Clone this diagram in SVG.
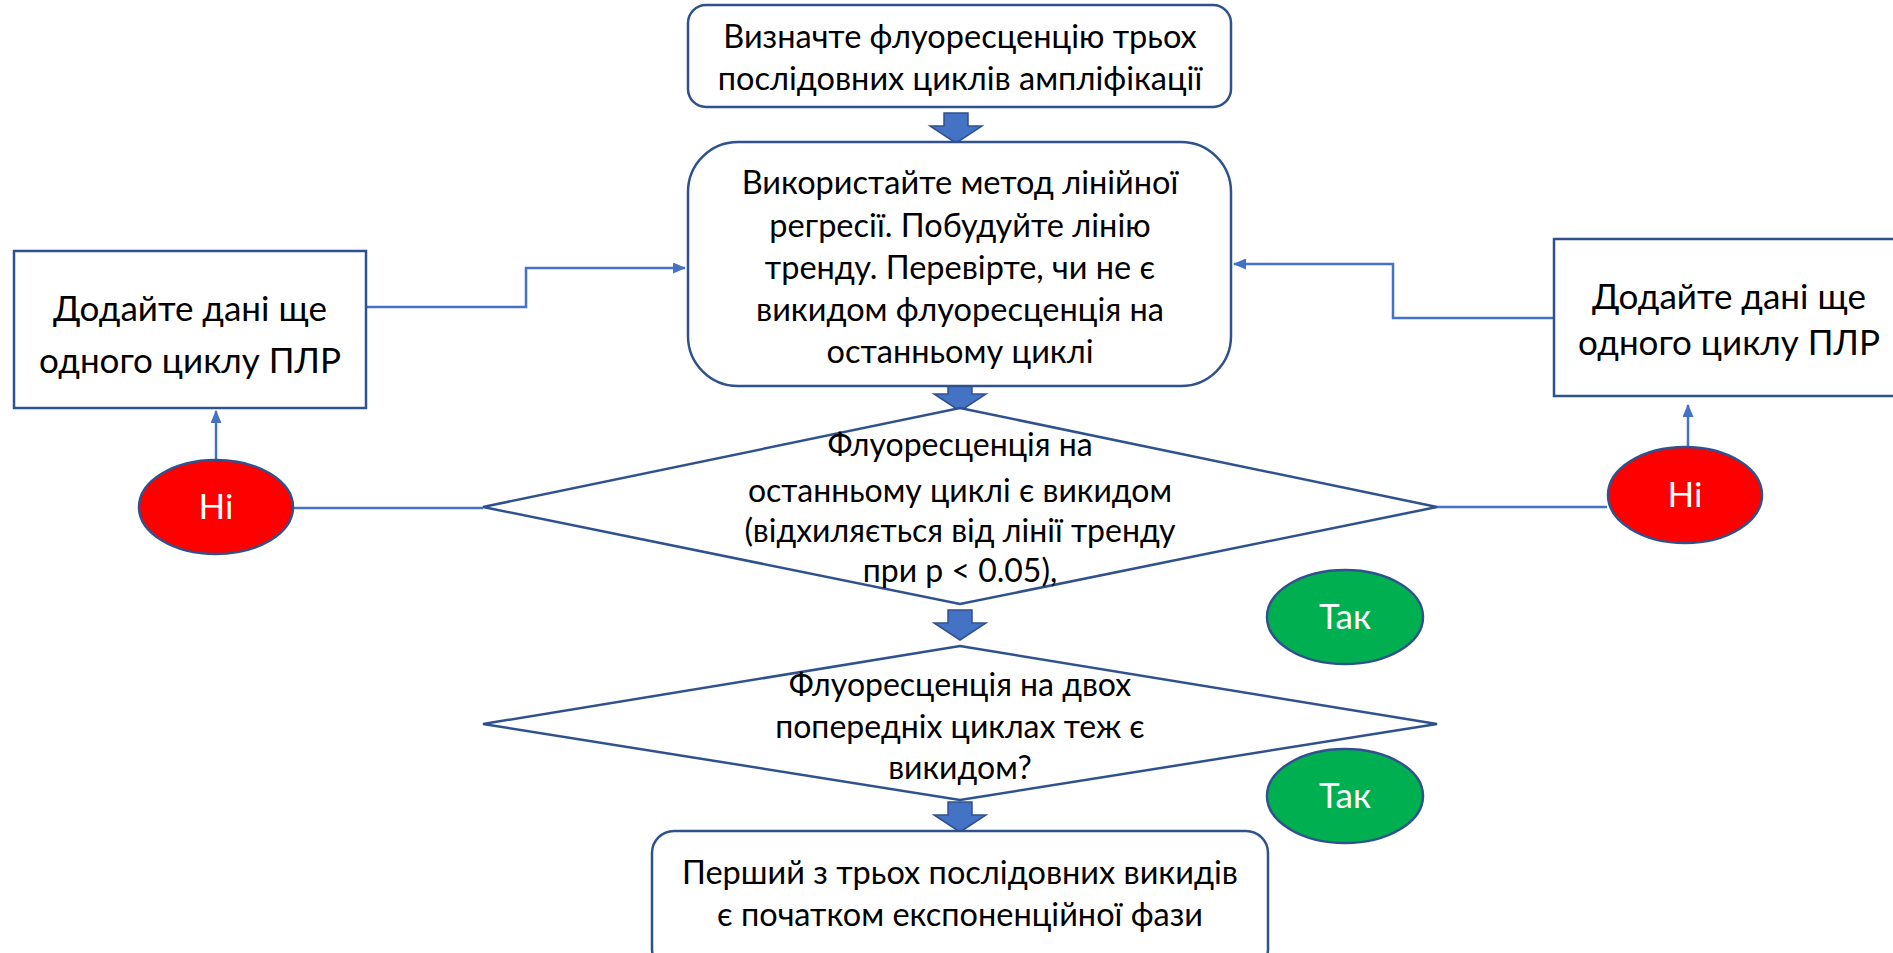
<svg xmlns="http://www.w3.org/2000/svg" width="1893" height="953" viewBox="0 0 1893 953">
<style>
.box{fill:#fff;stroke:#2F528F;stroke-width:2.5}
.dia{fill:#fff;stroke:#2F528F;stroke-width:2.5}
.no{fill:#FF0000;stroke:#2F528F;stroke-width:2.5}
.yes{fill:#00B050;stroke:#2F528F;stroke-width:2.5}
.conn{fill:none;stroke:#4472C4;stroke-width:2.5}
.blk{fill:#4472C4;stroke:#2F528F;stroke-width:1.5}
text{font-family:Lato,"Open Sans","Noto Sans",sans-serif;fill:#000;text-anchor:middle}
.t{font-size:32.5px}
.tl{font-size:35px}
.td{font-size:32px}
.tw{font-size:35px;fill:#fff}
</style>
<defs>
<marker id="ah" markerWidth="13" markerHeight="11" refX="12" refY="5.5" orient="auto" markerUnits="userSpaceOnUse">
<path d="M0,0 L13,5.5 L0,11 Z" fill="#4472C4"/>
</marker>
<path id="blockarrow" d="M-12,0 H12 V13 H26 L0,30 L-26,13 H-12 Z"/>
</defs>
<g id="connectors">
<path class="conn" d="M366,307 H526 V268 H685" marker-end="url(#ah)"/>
<path class="conn" d="M1554,318 H1393 V264 H1234" marker-end="url(#ah)"/>
<path class="conn" d="M216,460 V411" marker-end="url(#ah)"/>
<path class="conn" d="M1688,447 V405" marker-end="url(#ah)"/>
<path class="conn" d="M293,508 H483"/>
<path class="conn" d="M1437,507 H1607"/>
<use href="#blockarrow" class="blk" x="956" y="113"/>
<use href="#blockarrow" class="blk" x="960" y="381"/>
<use href="#blockarrow" class="blk" x="960" y="610"/>
<use href="#blockarrow" class="blk" x="960" y="802"/>
</g>
<g id="n-start">
<rect class="box" x="688" y="5" width="543" height="102" rx="18"/>
<text class="t" x="960" y="48">Визначте флуоресценцію трьох</text>
<text class="t" x="960" y="90">послідовних циклів ампліфікації</text>
</g>
<g id="n-regression">
<rect class="box" x="688" y="142" width="543" height="244" rx="50"/>
<text class="t" x="960" y="194">Використайте метод лінійної</text>
<text class="t" x="960" y="237">регресії. Побудуйте лінію</text>
<text class="t" x="960" y="279">тренду. Перевірте, чи не є</text>
<text class="t" x="960" y="321">викидом флуоресценція на</text>
<text class="t" x="960" y="363">останньому циклі</text>
</g>
<g id="n-add-left">
<rect class="box" x="14" y="251" width="352" height="157"/>
<text class="tl" x="190" y="321">Додайте дані ще</text>
<text class="tl" x="190" y="373">одного циклу ПЛР</text>
</g>
<g id="n-add-right">
<rect class="box" x="1554" y="239" width="345" height="157"/>
<text class="tl" x="1729" y="309">Додайте дані ще</text>
<text class="tl" x="1729" y="355">одного циклу ПЛР</text>
</g>
<g id="n-no-left">
<ellipse class="no" cx="216" cy="507" rx="77" ry="47"/>
<text class="tw" x="216" y="519">Ні</text>
</g>
<g id="n-no-right">
<ellipse class="no" cx="1685" cy="495" rx="77" ry="48"/>
<text class="tw" x="1685" y="507">Ні</text>
</g>
<g id="n-decision1">
<polygon class="dia" points="960,408 1437,507 960,604 483,507"/>
<text class="td" x="960" y="456">Флуоресценція на</text>
<text class="td" x="960" y="502">останньому циклі є викидом</text>
<text class="td" x="960" y="542">(відхиляється від лінії тренду</text>
<text class="td" x="960" y="582">при p &lt; 0.05),</text>
</g>
<g id="n-yes1">
<ellipse class="yes" cx="1345" cy="617" rx="78" ry="47"/>
<text class="tw" x="1345" y="629">Так</text>
</g>
<g id="n-decision2">
<polygon class="dia" points="960,646 1437,724 960,800 483,724"/>
<text class="td" x="960" y="696">Флуоресценція на двох</text>
<text class="td" x="960" y="738">попередніх циклах теж є</text>
<text class="td" x="960" y="779">викидом?</text>
</g>
<g id="n-yes2">
<ellipse class="yes" cx="1345" cy="796" rx="78" ry="47"/>
<text class="tw" x="1345" y="808">Так</text>
</g>
<g id="n-end">
<rect class="box" x="652" y="831" width="616" height="140" rx="22"/>
<text class="t" x="960" y="884">Перший з трьох послідовних викидів</text>
<text class="t" x="960" y="926">є початком експоненційної фази</text>
</g>
</svg>
